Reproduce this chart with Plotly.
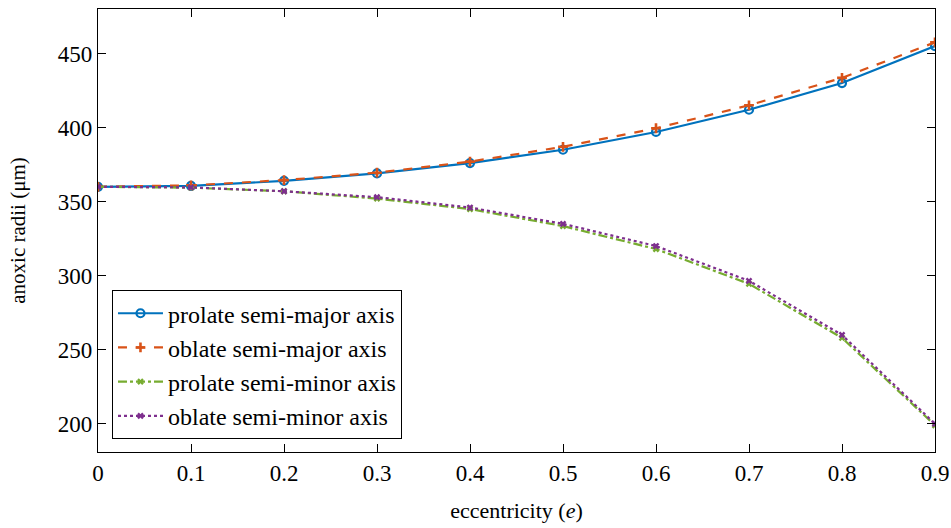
import plotly.graph_objects as go

ecc = [0, 0.1, 0.2, 0.3, 0.4, 0.5, 0.6, 0.7, 0.8, 0.9]
prolate_major = [360, 360.6, 364, 369, 376, 385, 397, 412, 430, 455]
oblate_major = [360, 361, 364.5, 369.5, 377, 387, 399.5, 415, 433.5, 457.5]
prolate_minor = [360, 359.4, 357, 352, 345, 333.5, 318, 294.5, 258, 199]
oblate_minor = [360, 359.6, 357, 353, 346, 335, 320, 296.5, 260, 200]

names = ["prolate semi-major axis", "oblate semi-major axis",
         "prolate semi-minor axis", "oblate semi-minor axis"]
colors = ["#0072BD", "#D95319", "#77AC30", "#7E2F8E"]
dashes = ["solid", "dash", "dashdot", "dot"]

font = "Liberation Serif"

fig = go.Figure()
series = [prolate_major, oblate_major, prolate_minor, oblate_minor]
markers = [
    dict(symbol="circle-open", size=8, line=dict(width=2.2, color=colors[0])),
    dict(symbol="cross-thin-open", size=7, line=dict(width=2.6, color=colors[1])),
    dict(symbol="x", size=6, color=colors[2], line=dict(width=0)),
    dict(symbol="x", size=6, color=colors[3], line=dict(width=0)),
]
for i, ys in enumerate(series):
    fig.add_trace(go.Scatter(
        x=ecc, y=ys, name=names[i], mode="lines+markers",
        line=dict(color=colors[i], width=2.2, dash=dashes[i]),
        marker=markers[i],
    ))

axis_common = dict(
    showline=True, linecolor="black", linewidth=1.2, mirror="ticks",
    ticks="inside", ticklen=8, tickwidth=1.2, tickcolor="black",
    showgrid=False, zeroline=False, ticklabeloverflow="allow",
    automargin=False,
    tickfont=dict(family=font, size=23, color="black"),
)

fig.update_layout(
    width=951, height=528,
    margin=dict(l=98, r=16, t=9, b=76),
    plot_bgcolor="white", paper_bgcolor="white",
    font=dict(family=font, color="black"),
    xaxis=dict(range=[0, 0.9], tickvals=[0, 0.1, 0.2, 0.3, 0.4, 0.5, 0.6, 0.7, 0.8, 0.9],
               ticktext=["0", "0.1", "0.2", "0.3", "0.4", "0.5", "0.6", "0.7", "0.8", "0.9"],
               title=dict(text="eccentricity (<i>e</i>)", font=dict(family=font, size=22), standoff=17),
               **axis_common),
    yaxis=dict(range=[181, 480], tickvals=[200, 250, 300, 350, 400, 450],
               title=dict(text="anoxic radii (μm)", font=dict(family=font, size=21), standoff=26),
               **axis_common),
    legend=dict(x=0.0167, y=0.029, xanchor="left", yanchor="bottom",
                bordercolor="black", borderwidth=1, bgcolor="white",
                itemwidth=45,
                font=dict(family=font, size=24), tracegroupgap=0),
    showlegend=True,
)

fig.write_html("out.html")
